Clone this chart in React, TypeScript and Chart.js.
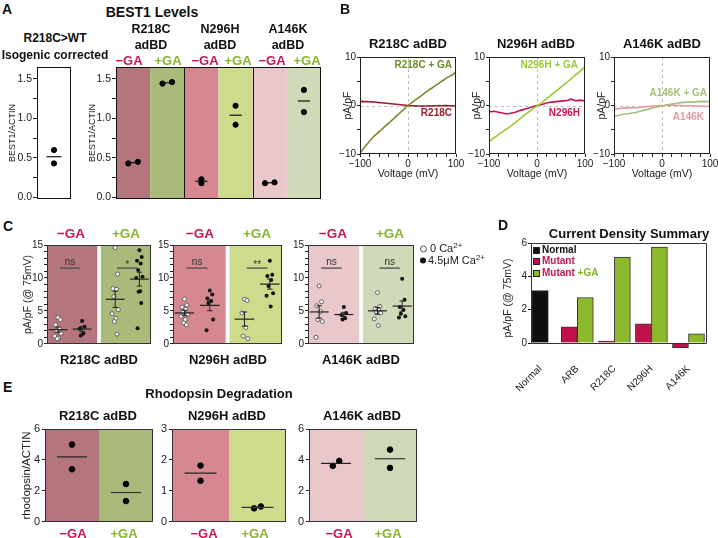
import React, { useEffect, useRef } from "react";
import { Chart, registerables } from "chart.js";

Chart.register(...registerables);

const FONT = "'Liberation Sans', Arial, Helvetica, sans-serif";
Chart.defaults.font.family = FONT;
Chart.defaults.color = "#222";

// ---------- colours ----------
const MINUS_TXT = "#c8164f";
const PLUS_TXT = "#86b42c";
const R218C_M = "#b4767c";
const R218C_P = "#aaba7a";
const N296H_M = "#d58890";
const N296H_P = "#ccdc8c";
const A146K_M = "#e9c7cb";
const A146K_P = "#d1dab8";

// ---------- Panel A: BEST1 levels ----------
const A_ISO_VALUES = [0.6, 0.43];
const A_ISO_JITTER = [0, 0];
const A_R218C_MINUS = [0.43, 0.45];
const A_R218C_PLUS = [1.44, 1.46];
const A_N296H_MINUS = [0.23, 0.18];
const A_N296H_PLUS = [1.16, 0.92];
const A_A146K_MINUS = [0.18, 0.19];
const A_A146K_PLUS = [1.36, 1.08];
const A_JITTER_PAIR = [-0.14, 0.14];
const A_JITTER_STACK = [0, 0];
const A_TICKS = [0, 0.25, 0.5, 0.75, 1, 1.25, 1.5];
const A_TICK_LABELS = ["0.0", "", "0.5", "", "1.0", "", "1.5"];

// ---------- Panel B: I-V curves ----------
const B_VOLTAGE = [-100, -95, -90, -85, -80, -75, -70, -65, -60, -55, -50, -45, -40, -35, -30, -25, -20, -15, -10, -5, 0, 5, 10, 15, 20, 25, 30, 35, 40, 45, 50, 55, 60, 65, 70, 75, 80, 85, 90, 95, 100];
const B_R218C_GA = [-9.8, -9.2, -8.5, -7.95, -7.3, -6.8, -6.25, -5.85, -5.35, -4.95, -4.5, -4.05, -3.65, -3.15, -2.75, -2.25, -1.85, -1.35, -0.9, -0.45, 0.0, 0.4, 0.75, 1.15, 1.45, 1.85, 2.2, 2.6, 2.9, 3.3, 3.6, 3.95, 4.3, 4.6, 5.0, 5.3, 5.7, 5.9, 6.2, 6.45, 7.0];
const B_R218C = [0.8, 0.85, 0.8, 0.82, 0.78, 0.75, 0.72, 0.66, 0.6, 0.56, 0.5, 0.45, 0.4, 0.36, 0.3, 0.25, 0.2, 0.16, 0.1, 0.05, 0.0, -0.04, -0.06, -0.08, -0.1, -0.1, -0.12, -0.1, -0.1, -0.08, -0.1, -0.06, -0.05, -0.02, -0.05, 0.0, -0.02, -0.05, -0.06, -0.1, -0.1];
const B_N296H_GA = [-7.5, -7.1, -6.7, -6.35, -6.0, -5.65, -5.3, -4.95, -4.6, -4.25, -3.9, -3.5, -3.1, -2.7, -2.3, -1.9, -1.5, -1.15, -0.8, -0.45, -0.1, 0.25, 0.6, 1.0, 1.4, 1.8, 2.2, 2.6, 3.0, 3.4, 3.8, 4.2, 4.6, 5.0, 5.4, 5.85, 6.3, 6.7, 7.1, 7.55, 8.0];
const B_N296H = [-1.2, -1.3, -1.2, -1.3, -1.4, -1.5, -1.6, -1.7, -1.7, -1.6, -1.5, -1.4, -1.2, -1.0, -0.9, -0.7, -0.6, -0.4, -0.3, -0.1, 0.0, 0.1, 0.2, 0.35, 0.5, 0.6, 0.7, 0.75, 0.8, 0.85, 0.9, 0.95, 1.0, 1.1, 1.3, 1.2, 1.0, 1.0, 1.1, 1.0, 1.0];
const B_A146K_GA = [-2.4, -2.1, -2.0, -1.9, -1.8, -1.75, -1.7, -1.6, -1.5, -1.45, -1.3, -1.2, -1.05, -0.9, -0.8, -0.65, -0.5, -0.4, -0.3, -0.2, -0.1, 0.0, 0.1, 0.2, 0.3, 0.35, 0.4, 0.5, 0.6, 0.65, 0.7, 0.7, 0.7, 0.75, 0.75, 0.8, 0.8, 0.85, 0.8, 0.8, 0.8];
const B_A146K = [-0.6, -0.7, -0.65, -0.6, -0.5, -0.55, -0.5, -0.45, -0.4, -0.45, -0.4, -0.3, -0.3, -0.25, -0.2, -0.15, -0.1, -0.1, -0.05, 0.0, 0.0, 0.0, 0.05, 0.05, 0.1, 0.05, 0.0, 0.0, 0.0, -0.05, -0.1, -0.05, 0.0, -0.05, -0.1, -0.1, -0.15, -0.1, -0.2, -0.15, -0.1];
const B_X_TICKS = [-100, -80, -60, -40, -20, 0, 20, 40, 60, 80, 100];
const B_X_LABELS = ["\u2212100", "", "", "", "", "0", "", "", "", "", "100"];
const B_Y_TICKS = [-10, -5, 0, 5, 10];
const B_Y_LABELS = ["\u221210", "", "0", "", "10"];

// ---------- Panel C: current density @ 75 mV ----------
const C_R218C_MINUS_0CA = [4.0, 3.7, 2.9, 2.4, 2.0, 1.6, 1.2, 0.9, 0.8];
const C_R218C_MINUS_CA = [3.5, 2.6, 2.3, 1.6, 1.3];
const C_R218C_PLUS_0CA = [14.6, 10.6, 8.4, 8.3, 7.2, 5.2, 4.6, 3.9, 3.4, 1.5];
const C_R218C_PLUS_CA = [14.2, 13.2, 12.6, 12.2, 11.2, 10.2, 10.0, 8.0, 7.9, 6.2, 2.4];
const C_N296H_MINUS_0CA = [6.8, 5.9, 5.6, 5.3, 4.9, 4.5, 4.2, 3.7, 3.2, 2.9];
const C_N296H_MINUS_CA = [8.1, 7.5, 6.9, 6.5, 6.2, 3.7, 2.1];
const C_N296H_PLUS_0CA = [6.8, 6.6, 4.7, 2.5, 1.2, 0.8];
const C_N296H_PLUS_CA = [12.6, 10.5, 10.3, 9.7, 8.8, 7.7, 7.3, 5.7];
const C_A146K_MINUS_0CA = [8.8, 6.4, 5.8, 4.9, 3.7, 3.4, 1.0];
const C_A146K_MINUS_CA = [5.6, 4.7, 4.4, 3.9, 3.7];
const C_A146K_PLUS_0CA = [7.8, 5.7, 5.4, 5.1, 4.9, 4.7, 3.8, 2.8];
const C_A146K_PLUS_CA = [9.9, 6.7, 5.6, 5.2, 4.6, 4.2, 4.0];
const C_SIG_R218C = ["ns", "*"];
const C_SIG_N296H = ["ns", "**"];
const C_SIG_A146K = ["ns", "ns"];
const C_SIG_LEVEL = 11.5;
const C_COLS = [0.42, 1.35, 2.62, 3.55];
const C_JITTER = [0, 0.09, -0.09, 0.05, -0.05, 0.12, -0.12, 0.03, -0.03, 0.07, -0.07];
const C_TICKS = [0, 1, 2, 3, 4, 5, 6, 7, 8, 9, 10, 11, 12, 13, 14, 15];
const C_TICK_LABELS = ["0", "", "", "", "", "5", "", "", "", "", "10", "", "", "", "", "15"];

// ---------- Panel D: current density summary ----------
const D_CATS = ["Normal", "ARB", "R218C", "N296H", "A146K"];
const D_NORMAL = [3.15, null, null, null, null];
const D_MUTANT = [null, 0.97, 0.12, 1.15, -0.3];
const D_MUTANT_GA = [null, 2.73, 5.15, 5.75, 0.55];
const D_TICKS = [0, 2, 4, 6];
const D_TICK_LABELS = ["0", "2", "4", "6"];

// ---------- Panel E: rhodopsin degradation ----------
const E_R218C_MINUS = [5.0, 3.4];
const E_R218C_PLUS = [2.45, 1.35];
const E_N296H_MINUS = [1.82, 1.33];
const E_N296H_PLUS = [0.44, 0.5];
const E_A146K_MINUS = [3.62, 3.94];
const E_A146K_PLUS = [4.67, 3.49];
const E_JIT_NONE = [0, 0];
const E_JIT_PAIR = [-0.06, 0.06];
const E_TICKS_6 = [0, 2, 4, 6];
const E_LABELS_6 = ["0", "2", "4", "6"];
const E_TICKS_3 = [0, 1, 2, 3];
const E_LABELS_3 = ["0", "1", "2", "3"];

// ---------- helpers ----------
const mean = (a: number[]) => a.reduce((s, v) => s + v, 0) / a.length;
const sem = (a: number[]) => {
  const m = mean(a);
  const sd = Math.sqrt(a.reduce((s, v) => s + (v - m) * (v - m), 0) / (a.length - 1));
  return sd / Math.sqrt(a.length);
};

type M = { ml: number; mt: number; mr: number; mb: number };

const COMMON = {
  responsive: false,
  animation: false,
  devicePixelRatio: 1,
  events: [],
  plugins: { legend: { display: false }, tooltip: { enabled: false }, title: { display: false } },
};

function labelFor(ticks: number[], labels: string[], v: number) {
  for (let k = 0; k < ticks.length; k++) {
    if (Math.abs(ticks[k] - v) < 1e-6) return labels[k];
  }
  return "";
}

function yAxis(m: M, o: any) {
  return {
    type: "linear",
    position: "left",
    min: o.min,
    max: o.max,
    afterBuildTicks: (s: any) => {
      s.ticks = o.ticks.map((v: number) => ({ value: v }));
    },
    afterFit: (s: any) => {
      s.width = m.ml;
    },
    ticks: {
      autoSkip: false,
      padding: o.pad ?? 1,
      color: "#222",
      font: { size: o.size ?? 10, family: FONT },
      callback: (v: any) => labelFor(o.ticks, o.labels, Number(v)),
    },
    grid: { drawOnChartArea: false, drawTicks: true, tickLength: o.tickLen ?? 3, color: "#222", lineWidth: 1 },
    border: { display: false },
    title: o.title
      ? { display: true, text: o.title, color: "#222", font: { size: o.titleSize ?? 10, family: FONT }, padding: { top: o.titlePad ?? 4, bottom: 0 } }
      : { display: false },
  };
}

function hiddenX(min: number, max: number) {
  return { type: "linear", min, max, display: false };
}

function deco(o: any) {
  return {
    id: "deco",
    beforeDraw(chart: any) {
      if (!o.bands) return;
      const { ctx, chartArea: a, scales } = chart;
      ctx.save();
      for (const b of o.bands) {
        const x0 = scales.x.getPixelForValue(b.from);
        const x1 = scales.x.getPixelForValue(b.to);
        ctx.fillStyle = b.color;
        ctx.fillRect(x0, a.top, x1 - x0, a.bottom - a.top);
      }
      ctx.restore();
    },
    beforeDatasetsDraw(chart: any) {
      if (!o.zero) return;
      const { ctx, chartArea: a, scales } = chart;
      const x0 = Math.round(scales.x.getPixelForValue(0)) + 0.5;
      const y0 = Math.round(scales.y.getPixelForValue(0)) + 0.5;
      ctx.save();
      ctx.strokeStyle = "#bdbdbd";
      ctx.lineWidth = 1;
      ctx.setLineDash([3, 3]);
      ctx.beginPath();
      ctx.moveTo(x0, a.top);
      ctx.lineTo(x0, a.bottom);
      ctx.moveTo(a.left, y0);
      ctx.lineTo(a.right, y0);
      ctx.stroke();
      ctx.restore();
    },
    afterDatasetsDraw(chart: any) {
      const { ctx, chartArea: a, scales } = chart;
      const X = (v: number) => scales.x.getPixelForValue(v);
      const Y = (v: number) => scales.y.getPixelForValue(v);
      ctx.save();
      if (o.vlines) {
        ctx.strokeStyle = "#111";
        ctx.lineWidth = 1;
        for (const v of o.vlines) {
          const x = Math.round(X(v)) + 0.5;
          ctx.beginPath();
          ctx.moveTo(x, a.top);
          ctx.lineTo(x, a.bottom);
          ctx.stroke();
        }
      }
      if (o.means) {
        for (const mm of o.means) {
          ctx.strokeStyle = mm.color || "#111";
          ctx.lineWidth = mm.width || 1.2;
          ctx.beginPath();
          ctx.moveTo(X(mm.x - mm.hw), Y(mm.y));
          ctx.lineTo(X(mm.x + mm.hw), Y(mm.y));
          ctx.stroke();
        }
      }
      if (o.errs) {
        ctx.strokeStyle = "#222";
        ctx.lineWidth = 1;
        for (const e of o.errs) {
          const x = X(e.x);
          ctx.beginPath();
          ctx.moveTo(x, Y(e.lo));
          ctx.lineTo(x, Y(e.hi));
          ctx.moveTo(X(e.x - e.cap), Y(e.lo));
          ctx.lineTo(X(e.x + e.cap), Y(e.lo));
          ctx.moveTo(X(e.x - e.cap), Y(e.hi));
          ctx.lineTo(X(e.x + e.cap), Y(e.hi));
          ctx.stroke();
        }
      }
      if (o.sig) {
        for (const s of o.sig) {
          ctx.strokeStyle = "#555";
          ctx.lineWidth = 1.4;
          const y = Y(s.y);
          ctx.beginPath();
          ctx.moveTo(X(s.x0), y);
          ctx.lineTo(X(s.x1), y);
          ctx.stroke();
          ctx.fillStyle = "#333";
          ctx.font = `10px ${FONT}`;
          ctx.textAlign = "center";
          ctx.textBaseline = "bottom";
          ctx.fillText(s.text, (X(s.x0) + X(s.x1)) / 2, y - (s.text === "ns" ? 1 : -2));
        }
      }
      if (o.frame) {
        ctx.strokeStyle = o.frame;
        ctx.lineWidth = 1;
        ctx.strokeRect(Math.round(a.left) + 0.5, Math.round(a.top) + 0.5, Math.round(a.right - a.left) - 1, Math.round(a.bottom - a.top) - 1);
      }
      if (o.zeroFrame) {
        const l = Math.round(a.left) + 0.5;
        const r = Math.round(a.right) - 0.5;
        const t = Math.round(a.top) + 0.5;
        const z = Math.round(Y(0)) + 0.5;
        ctx.strokeStyle = o.zeroFrame;
        ctx.lineWidth = 1;
        ctx.beginPath();
        ctx.moveTo(l, z);
        ctx.lineTo(l, t);
        ctx.lineTo(r, t);
        ctx.lineTo(r, z);
        ctx.moveTo(l, z);
        ctx.lineTo(r, z);
        ctx.stroke();
      }
      ctx.restore();
    },
  };
}

function pad(m: M, xShown: boolean) {
  return { left: 0, top: m.mt, right: m.mr, bottom: xShown ? 0 : m.mb };
}

// ---------- chart configs ----------
function cfgA1(m: M) {
  return {
    type: "scatter",
    data: {
      datasets: [
        {
          data: A_ISO_VALUES.map((v, i) => ({ x: A_ISO_JITTER[i], y: v })),
          backgroundColor: "#000",
          borderColor: "#000",
          pointRadius: 2.6,
        },
      ],
    },
    options: {
      ...COMMON,
      layout: { padding: pad(m, false) },
      scales: {
        x: hiddenX(-0.5, 0.5),
        y: yAxis(m, { min: -0.02, max: 1.65, ticks: A_TICKS, labels: A_TICK_LABELS, title: "BEST1/ACTIN", titleSize: 9, titlePad: 7, tickLen: 4, pad: 1, size: 10.5 }),
      },
    },
    plugins: [deco({ means: [{ x: 0, y: mean(A_ISO_VALUES), hw: 0.22 }], frame: "#111" })],
  };
}

function cfgA2(m: M) {
  const groups = [A_R218C_MINUS, A_R218C_PLUS, A_N296H_MINUS, A_N296H_PLUS, A_A146K_MINUS, A_A146K_PLUS];
  const jit = [A_JITTER_PAIR, A_JITTER_PAIR, A_JITTER_STACK, A_JITTER_STACK, A_JITTER_PAIR, A_JITTER_STACK];
  const colors = [R218C_M, R218C_P, N296H_M, N296H_P, A146K_M, A146K_P];
  const pts: any[] = [];
  groups.forEach((g, gi) => g.forEach((v, i) => pts.push({ x: gi + jit[gi][i], y: v })));
  return {
    type: "scatter",
    data: { datasets: [{ data: pts, backgroundColor: "#000", borderColor: "#000", pointRadius: 2.6 }] },
    options: {
      ...COMMON,
      layout: { padding: pad(m, false) },
      scales: {
        x: hiddenX(-0.5, 5.5),
        y: yAxis(m, { min: -0.02, max: 1.65, ticks: A_TICKS, labels: A_TICK_LABELS, title: "BEST1/ACTIN", titleSize: 9, titlePad: 7, tickLen: 4, pad: 1, size: 10.5 }),
      },
    },
    plugins: [
      deco({
        bands: colors.map((c, i) => ({ from: i - 0.5, to: i + 0.5, color: c })),
        vlines: [1.5, 3.5],
        means: groups.map((g, gi) => ({ x: gi, y: mean(g), hw: 0.18 })),
        frame: "#111",
      }),
    ],
  };
}

function cfgB(m: M, mut: number[], ga: number[], mutColor: string, gaColor: string) {
  return {
    type: "line",
    data: {
      datasets: [
        { data: B_VOLTAGE.map((v, i) => ({ x: v, y: ga[i] })), borderColor: gaColor, borderWidth: 1.6, pointRadius: 0, tension: 0 },
        { data: B_VOLTAGE.map((v, i) => ({ x: v, y: mut[i] })), borderColor: mutColor, borderWidth: 1.6, pointRadius: 0, tension: 0 },
      ],
    },
    options: {
      ...COMMON,
      layout: { padding: pad(m, true) },
      scales: {
        x: {
          type: "linear",
          min: -100,
          max: 100,
          afterBuildTicks: (s: any) => {
            s.ticks = B_X_TICKS.map((v) => ({ value: v }));
          },
          afterFit: (s: any) => {
            s.height = m.mb;
          },
          ticks: { autoSkip: false, maxRotation: 0, minRotation: 0, padding: 1, color: "#222", font: { size: 10, family: FONT }, callback: (v: any) => labelFor(B_X_TICKS, B_X_LABELS, Number(v)) },
          grid: { drawOnChartArea: false, tickLength: 3, color: "#222" },
          border: { display: false },
          title: { display: true, text: "Voltage (mV)", color: "#222", font: { size: 10.5, family: FONT }, padding: { top: 0, bottom: 0 } },
        },
        y: yAxis(m, { min: -10, max: 10, ticks: B_Y_TICKS, labels: B_Y_LABELS, title: "pA/pF", titleSize: 10.5, titlePad: 5.5, tickLen: 3, pad: 1 }),
      },
    },
    plugins: [deco({ zero: true, frame: "#222" })],
  };
}

function cfgC(m: M, series: number[][], colors: string[], sig: string[], withTitle: boolean) {
  const open: any[] = [];
  const filled: any[] = [];
  series.forEach((s, si) => {
    s.forEach((v, i) => {
      const p = { x: C_COLS[si] + C_JITTER[i % C_JITTER.length], y: v };
      if (si % 2 === 0) open.push(p);
      else filled.push(p);
    });
  });
  return {
    type: "scatter",
    data: {
      datasets: [
        { data: filled, backgroundColor: "#111", borderColor: "#111", pointRadius: 2, borderWidth: 0 },
        { data: open, backgroundColor: "#fff", borderColor: "#555", pointRadius: 2, borderWidth: 0.9 },
      ],
    },
    options: {
      ...COMMON,
      layout: { padding: pad(m, false) },
      scales: {
        x: hiddenX(0, 4),
        y: yAxis(m, {
          min: -0.001,
          max: 15,
          ticks: C_TICKS,
          labels: C_TICK_LABELS,
          title: withTitle ? "pA/pF (@ 75mV)" : undefined,
          titleSize: 10.5,
          titlePad: 8,
          tickLen: 3,
          pad: 1,
        }),
      },
    },
    plugins: [
      deco({
        bands: [
          { from: 0, to: 1.93, color: colors[0] },
          { from: 2.07, to: 4, color: colors[1] },
        ],
        means: series.map((s, si) => ({ x: C_COLS[si], y: mean(s), hw: 0.36, color: "#222", width: 1.2 })),
        errs: series.map((s, si) => ({ x: C_COLS[si], lo: mean(s) - sem(s), hi: mean(s) + sem(s), cap: 0.1 })),
        sig: [
          { x0: C_COLS[0] + 0.08, x1: C_COLS[1] - 0.08, y: C_SIG_LEVEL, text: sig[0] },
          { x0: C_COLS[2] + 0.08, x1: C_COLS[3] - 0.08, y: C_SIG_LEVEL, text: sig[1] },
        ],
        frame: "#333",
      }),
    ],
  };
}

function cfgD(m: M) {
  const mk = (arr: (number | null)[]) => arr.map((y, i) => ({ x: i, y }));
  return {
    type: "bar",
    data: {
      datasets: [
        { label: "Normal", data: mk(D_NORMAL), backgroundColor: "#0e0e0e", borderColor: "#222", borderWidth: 1 },
        { label: "Mutant", data: mk(D_MUTANT), backgroundColor: "#c0114b", borderColor: "#333", borderWidth: 1 },
        { label: "Mutant +GA", data: mk(D_MUTANT_GA), backgroundColor: "#8cb82b", borderColor: "#333", borderWidth: 1 },
      ],
    },
    options: {
      ...COMMON,
      skipNull: true,
      barThickness: 16,
      layout: { padding: pad(m, true) },
      scales: {
        x: {
          type: "linear",
          min: -0.25,
          max: 4.5,
          offset: false,
          afterBuildTicks: (s: any) => {
            s.ticks = D_CATS.map((_c, i) => ({ value: i }));
          },
          afterFit: (s: any) => {
            s.height = m.mb;
          },
          ticks: { autoSkip: false, minRotation: 45, maxRotation: 45, padding: 2, color: "#222", font: { size: 10, family: FONT }, callback: (v: any) => D_CATS[Math.round(Number(v))] },
          grid: { display: false, offset: false },
          border: { display: false },
        },
        y: yAxis(m, { min: -0.6, max: 6, ticks: D_TICKS, labels: D_TICK_LABELS, title: "pA/pF (@ 75mV)", titleSize: 10.5, titlePad: 4, tickLen: 3, pad: 1 }),
      },
    },
    plugins: [deco({ zeroFrame: "#333" })],
  };
}

function cfgE(m: M, minus: number[], plus: number[], jm: number[], jp: number[], max: number, ticks: number[], labels: string[], colors: string[], withTitle: boolean) {
  const pts = [...minus.map((v, i) => ({ x: 0.5 + jm[i], y: v })), ...plus.map((v, i) => ({ x: 1.5 + jp[i], y: v }))];
  return {
    type: "scatter",
    data: { datasets: [{ data: pts, backgroundColor: "#000", borderColor: "#000", pointRadius: 2.8 }] },
    options: {
      ...COMMON,
      layout: { padding: pad(m, false) },
      scales: {
        x: hiddenX(0, 2),
        y: yAxis(m, { min: -0.001, max, ticks, labels, title: withTitle ? "rhodopsin/ACTIN" : undefined, titleSize: 11.5, titlePad: 5, tickLen: 3, pad: 2, size: 11 }),
      },
    },
    plugins: [
      deco({
        bands: [
          { from: 0, to: 1, color: colors[0] },
          { from: 1, to: 2, color: colors[1] },
        ],
        means: [
          { x: 0.5, y: mean(minus), hw: 0.28, color: "#222" },
          { x: 1.5, y: mean(plus), hw: 0.28, color: "#333" },
        ],
        frame: "#333",
      }),
    ],
  };
}

// ---------- components ----------
function ChartBox({ box, m, make }: { box: number[]; m: M; make: (m: M) => any }) {
  const ref = useRef<HTMLCanvasElement | null>(null);
  const w = box[2] - box[0] + m.ml + m.mr;
  const h = box[3] - box[1] + m.mt + m.mb;
  useEffect(() => {
    const chart = new Chart(ref.current as HTMLCanvasElement, make(m) as any);
    return () => chart.destroy();
  }, []);
  return (
    <canvas
      ref={ref}
      width={w}
      height={h}
      style={{ position: "absolute", left: box[0] - m.ml, top: box[1] - m.mt, width: w, height: h }}
    />
  );
}

function T({ x, y, children, size = 12, bold = true, color = "#111", align = "center" }: any) {
  const tx = align === "center" ? "-50%" : align === "right" ? "-100%" : "0";
  return (
    <div
      style={{
        position: "absolute",
        left: x,
        top: y,
        transform: `translate(${tx}, -50%)`,
        fontSize: size,
        fontWeight: bold ? 700 : 400,
        color,
        whiteSpace: "nowrap",
        lineHeight: 1,
        fontFamily: FONT,
      }}
    >
      {children}
    </div>
  );
}

const Sup = ({ children }: any) => (
  <span style={{ fontSize: "0.72em", position: "relative", top: "-0.55em" }}>{children}</span>
);

export default function App() {
  return (
    <div
      style={{
        position: "fixed",
        left: 0,
        top: 0,
        width: 718,
        height: 538,
        background: "#fff",
        overflow: "hidden",
        fontFamily: FONT,
      }}
    >
      {/* ---- charts ---- */}
      <ChartBox box={[37, 67, 72, 199]} m={{ ml: 37, mt: 8, mr: 4, mb: 12 }} make={cfgA1} />
      <ChartBox box={[116, 67, 322, 199]} m={{ ml: 36, mt: 8, mr: 4, mb: 12 }} make={cfgA2} />

      <ChartBox box={[360, 57, 456, 154]} m={{ ml: 24, mt: 8, mr: 12, mb: 26 }} make={(m) => cfgB(m, B_R218C, B_R218C_GA, "#98202a", "#6e8c28")} />
      <ChartBox box={[489, 57, 585, 154]} m={{ ml: 24, mt: 8, mr: 12, mb: 26 }} make={(m) => cfgB(m, B_N296H, B_N296H_GA, "#c61450", "#9bc837")} />
      <ChartBox box={[614, 57, 710, 154]} m={{ ml: 24, mt: 8, mr: 12, mb: 26 }} make={(m) => cfgB(m, B_A146K, B_A146K_GA, "#e896a0", "#a5be78")} />

      <ChartBox
        box={[47, 245, 152, 344]}
        m={{ ml: 33, mt: 8, mr: 4, mb: 9 }}
        make={(m) => cfgC(m, [C_R218C_MINUS_0CA, C_R218C_MINUS_CA, C_R218C_PLUS_0CA, C_R218C_PLUS_CA], [R218C_M, R218C_P], C_SIG_R218C, true)}
      />
      <ChartBox
        box={[173, 245, 283, 344]}
        m={{ ml: 24, mt: 8, mr: 4, mb: 9 }}
        make={(m) => cfgC(m, [C_N296H_MINUS_0CA, C_N296H_MINUS_CA, C_N296H_PLUS_0CA, C_N296H_PLUS_CA], [N296H_M, N296H_P], C_SIG_N296H, false)}
      />
      <ChartBox
        box={[308, 245, 415, 344]}
        m={{ ml: 24, mt: 8, mr: 4, mb: 9 }}
        make={(m) => cfgC(m, [C_A146K_MINUS_0CA, C_A146K_MINUS_CA, C_A146K_PLUS_0CA, C_A146K_PLUS_CA], [A146K_M, A146K_P], C_SIG_A146K, false)}
      />

      <ChartBox box={[531, 243, 707, 353]} m={{ ml: 33, mt: 8, mr: 6, mb: 45 }} make={cfgD} />

      <ChartBox
        box={[45, 429, 154, 522]}
        m={{ ml: 30, mt: 10, mr: 4, mb: 10 }}
        make={(m) => cfgE(m, E_R218C_MINUS, E_R218C_PLUS, E_JIT_NONE, E_JIT_NONE, 6, E_TICKS_6, E_LABELS_6, [R218C_M, R218C_P], true)}
      />
      <ChartBox
        box={[172, 429, 287, 522]}
        m={{ ml: 22, mt: 10, mr: 4, mb: 10 }}
        make={(m) => cfgE(m, E_N296H_MINUS, E_N296H_PLUS, E_JIT_NONE, E_JIT_PAIR, 3, E_TICKS_3, E_LABELS_3, [N296H_M, N296H_P], false)}
      />
      <ChartBox
        box={[309, 429, 418, 522]}
        m={{ ml: 22, mt: 10, mr: 4, mb: 10 }}
        make={(m) => cfgE(m, E_A146K_MINUS, E_A146K_PLUS, E_JIT_PAIR, E_JIT_NONE, 6, E_TICKS_6, E_LABELS_6, [A146K_M, A146K_P], false)}
      />

      {/* ---- Panel A text ---- */}
      <T x={2} y={9} size={14} align="left">A</T>
      <T x={152} y={12} size={14}>BEST1 Levels</T>
      <T x={55} y={38} size={12}>R218C&gt;WT</T>
      <T x={55} y={55} size={12}>Isogenic corrected</T>
      <T x={151} y={29} size={12.5}>R218C</T>
      <T x={151} y={45} size={12.5}>adBD</T>
      <T x={220} y={29} size={12.5}>N296H</T>
      <T x={220} y={45} size={12.5}>adBD</T>
      <T x={288} y={29} size={12.5}>A146K</T>
      <T x={288} y={45} size={12.5}>adBD</T>
      <T x={129} y={60} size={13} color={MINUS_TXT}>{"\u2212GA"}</T>
      <T x={168} y={60} size={13} color={PLUS_TXT}>+GA</T>
      <T x={205} y={60} size={13} color={MINUS_TXT}>{"\u2212GA"}</T>
      <T x={238} y={60} size={13} color={PLUS_TXT}>+GA</T>
      <T x={272} y={60} size={13} color={MINUS_TXT}>{"\u2212GA"}</T>
      <T x={307} y={60} size={13} color={PLUS_TXT}>+GA</T>

      {/* ---- Panel B text ---- */}
      <T x={340} y={9} size={14} align="left">B</T>
      <T x={408} y={43} size={13}>R218C adBD</T>
      <T x={536} y={43} size={13}>N296H adBD</T>
      <T x={662} y={43} size={13}>A146K adBD</T>
      <T x={452} y={65} size={10} align="right" color="#6e8c28">R218C + GA</T>
      <T x={452} y={113} size={10} align="right" color="#98202a">R218C</T>
      <T x={578} y={65} size={10} align="right" color="#9bc837">N296H + GA</T>
      <T x={580} y={113} size={10} align="right" color="#c61450">N296H</T>
      <T x={707} y={93} size={10} align="right" color="#a5be78">A146K + GA</T>
      <T x={704} y={117} size={10} align="right" color="#e896a0">A146K</T>

      {/* ---- Panel C text ---- */}
      <T x={3} y={226} size={14} align="left">C</T>
      <T x={71} y={234} size={13.5} color={MINUS_TXT}>{"\u2212GA"}</T>
      <T x={126} y={234} size={13.5} color={PLUS_TXT}>+GA</T>
      <T x={200} y={234} size={13.5} color={MINUS_TXT}>{"\u2212GA"}</T>
      <T x={257} y={234} size={13.5} color={PLUS_TXT}>+GA</T>
      <T x={333} y={234} size={13.5} color={MINUS_TXT}>{"\u2212GA"}</T>
      <T x={390} y={234} size={13.5} color={PLUS_TXT}>+GA</T>
      <T x={99} y={359} size={13}>R218C adBD</T>
      <T x={228} y={359} size={13}>N296H adBD</T>
      <T x={361} y={359} size={13}>A146K adBD</T>
      <T x={420} y={248} size={11} bold={false} align="left" color="#222">
        <span style={{ display: "inline-block", width: 5, height: 5, border: "1px solid #555", borderRadius: "50%", marginRight: 3, verticalAlign: "middle" }} />
        0 Ca<Sup>2+</Sup>
      </T>
      <T x={420} y={260} size={11} bold={false} align="left" color="#222">
        <span style={{ display: "inline-block", width: 6, height: 6, background: "#111", borderRadius: "50%", marginRight: 2, verticalAlign: "middle" }} />
        4.5μM Ca<Sup>2+</Sup>
      </T>

      {/* ---- Panel D text ---- */}
      <T x={498} y={225} size={14} align="left">D</T>
      <T x={629} y={233} size={13}>Current Density Summary</T>
      <T x={533} y={250} size={10} align="left">
        <span style={{ display: "inline-block", width: 7, height: 7, background: "#0e0e0e", border: "1px solid #222", marginRight: 2, verticalAlign: "middle", boxSizing: "border-box" }} />
        Normal
      </T>
      <T x={533} y={261} size={10} align="left" color={MINUS_TXT}>
        <span style={{ display: "inline-block", width: 7, height: 7, background: "#c0114b", border: "1px solid #222", marginRight: 2, verticalAlign: "middle", boxSizing: "border-box" }} />
        Mutant
      </T>
      <T x={533} y={273} size={10} align="left" color={MINUS_TXT}>
        <span style={{ display: "inline-block", width: 7, height: 7, background: "#8cb82b", border: "1px solid #222", marginRight: 2, verticalAlign: "middle", boxSizing: "border-box" }} />
        Mutant <span style={{ color: PLUS_TXT }}>+GA</span>
      </T>

      {/* ---- Panel E text ---- */}
      <T x={3} y={387} size={14} align="left">E</T>
      <T x={219} y={393} size={13}>Rhodopsin Degradation</T>
      <T x={98} y={415} size={13}>R218C adBD</T>
      <T x={227} y={415} size={13}>N296H adBD</T>
      <T x={362} y={415} size={13}>A146K adBD</T>
      <T x={73} y={533} size={13} color={MINUS_TXT}>{"\u2212GA"}</T>
      <T x={124} y={533} size={13} color={PLUS_TXT}>+GA</T>
      <T x={204} y={533} size={13} color={MINUS_TXT}>{"\u2212GA"}</T>
      <T x={255} y={533} size={13} color={PLUS_TXT}>+GA</T>
      <T x={339} y={533} size={13} color={MINUS_TXT}>{"\u2212GA"}</T>
      <T x={388} y={533} size={13} color={PLUS_TXT}>+GA</T>
    </div>
  );
}
